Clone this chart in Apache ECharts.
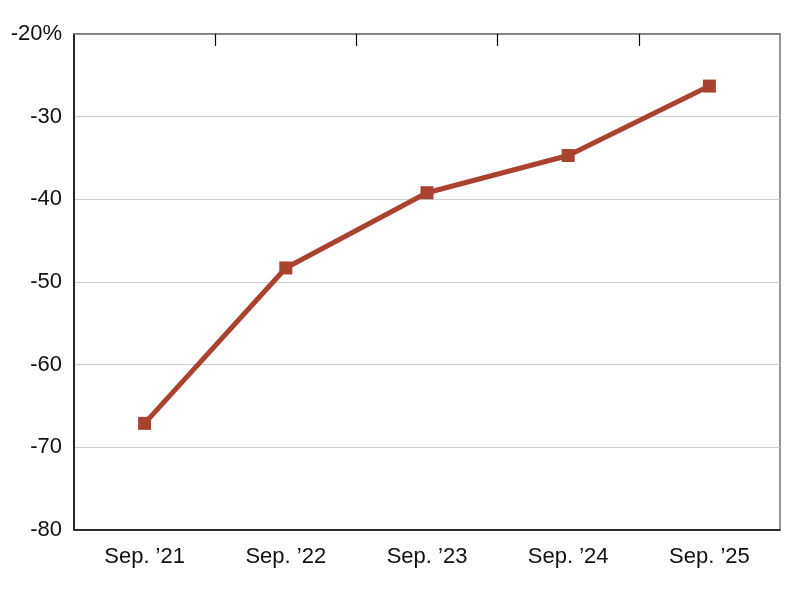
<!DOCTYPE html>
<html>
<head>
	<meta charset="utf-8">
	<title>chart</title>
	<script type="text/javascript" src="https://cdn.jsdelivr.net/npm/echarts@6/dist/echarts.min.js"></script>
	<style>
		html, body { margin: 0; padding: 0; background: #fff; }
		#DIV1 { width: 800px; height: 600px; }
	</style>
</head>
<body>
	<div id="DIV1"></div>
	<script type="text/javascript">
		const categories = ["Sep. \u201921", "Sep. \u201922", "Sep. \u201923", "Sep. \u201924", "Sep. \u201925"];
		const values = [-67.1, -48.3, -39.2, -34.7, -26.3];
		const yTicks = { min: -80, max: -20, interval: 10 };

		const FONT = "'Liberation Sans', Arial, sans-serif";
		const chart = echarts.init(document.getElementById("DIV1"));

		// boundaries between categories, for the little ticks on the top edge
		const topTicks = [];
		for (let i = 1; i < categories.length; i++) topTicks.push(i);

		const option = {
			backgroundColor: "#fff",
			animation: false,
			grid: {
				left: 74, right: 20, top: 34, bottom: 70,
				show: true, borderColor: "#777", borderWidth: 1.5
			},
			xAxis: [{
				type: "category",
				data: categories,
				boundaryGap: true,
				axisLine: { lineStyle: { color: "#000", width: 1.5 } },
				axisTick: { show: false },
				axisLabel: { color: "#111", fontSize: 22, fontFamily: FONT, margin: 16 }
			}, {
				type: "value",
				position: "top",
				min: 0, max: categories.length,
				axisLine: { show: true, lineStyle: { color: "#777", width: 1.5 } },
				axisTick: { show: true, inside: true, length: 12, customValues: topTicks, lineStyle: { color: "#000", width: 1.2 } },
				axisLabel: { show: false },
				splitLine: { show: false }
			}],
			yAxis: {
				type: "value",
				min: yTicks.min, max: yTicks.max, interval: yTicks.interval,
				axisLine: { show: true, lineStyle: { color: "#000", width: 1.5 } },
				axisTick: { show: false },
				splitLine: { lineStyle: { color: "#cfcfcf", width: 1.2 } },
				axisLabel: {
					color: "#111", fontSize: 22, fontFamily: FONT, margin: 12,
					formatter: function (v) { return v === yTicks.max ? v + "%" : String(v); }
				}
			},
			series: [{
				type: "line",
				xAxisIndex: 0,
				data: values,
				symbol: "rect",
				symbolSize: 13,
				lineStyle: { color: "#a9432f", width: 5 },
				itemStyle: { color: "#a9432f" }
			}]
		};
		chart.setOption(option);
	</script>
</body>
</html>
